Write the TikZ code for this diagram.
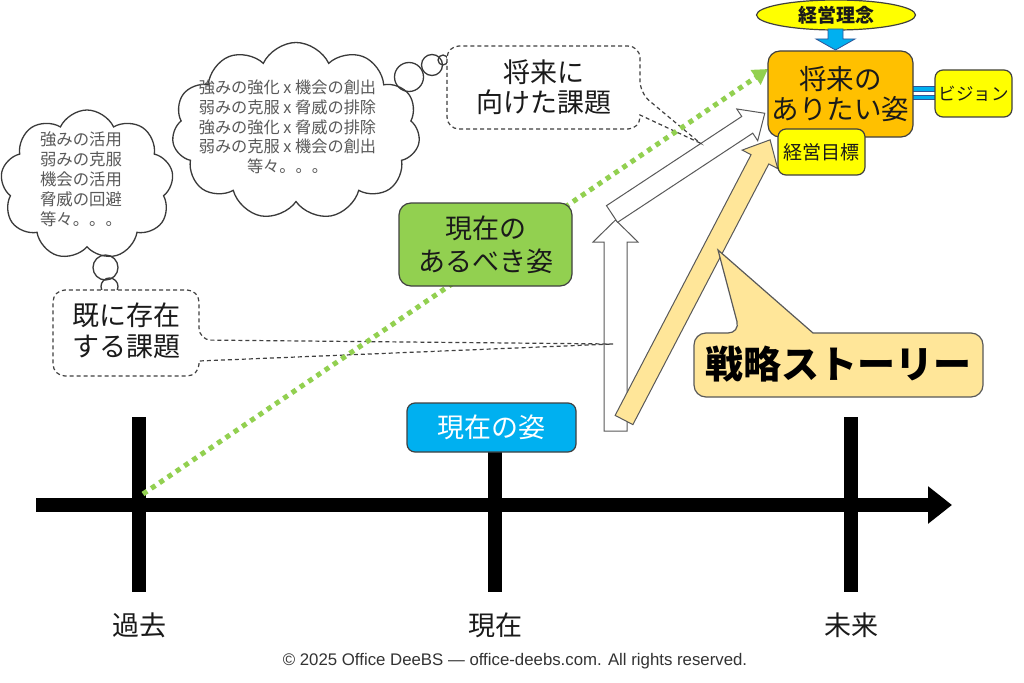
\documentclass[tikz,border=0pt]{standalone}
\usepackage{fontspec}
\setmainfont{Noto Sans CJK JP}
\newfontfamily\libsans{Liberation Sans}
\usetikzlibrary{shapes.symbols,shapes.geometric,arrows.meta}
\definecolor{cyellow}{HTML}{FFFF00}
\definecolor{corange}{HTML}{FFC000}
\definecolor{cgreen}{HTML}{92D050}
\definecolor{cblue}{HTML}{00B0F0}
\definecolor{clorange}{HTML}{FFE699}
\definecolor{bcol}{HTML}{404040}
\definecolor{tcol}{HTML}{1A1A1A}
\definecolor{cltxt}{HTML}{595959}
\definecolor{clline}{HTML}{3A3A3A}
\definecolor{ccopy}{HTML}{333333}
\definecolor{arrline}{HTML}{595959}
\definecolor{bluebord}{HTML}{2F5597}
\begin{document}
\begin{tikzpicture}[x=1pt,y=-1pt,
  txt/.style={inner sep=0pt, align=center, text=tcol},
  big/.style={font=\fontsize{27}{31}\selectfont},
  rbox/.style={draw=bcol, line width=1.2pt, rounded corners=#1},
  rbox/.default=10pt,
  cloudshape/.style={cloud, draw=clline, line width=1.3pt, fill=white, inner sep=0pt},
  cloudtxt/.style={inner sep=0pt, align=center, text=cltxt, font=\fontsize{16.4}{20}\selectfont},
  bubble/.style={draw=clline, line width=1.3pt},
  dashbox/.style={draw=bcol, line width=1.2pt, dash pattern=on 4pt off 3pt, fill=white},
  whitearrow/.style={draw=arrline, line width=1pt, fill=white},
  storyarrow/.style={draw=arrline, line width=1pt, fill=clorange},
  thick axis/.style={line width=14pt, draw=black},
]
\useasboundingbox (0,0) rectangle (1024,682);
\fill[white] (0,0) rectangle (1024,682);

% clouds
\node[cloudshape, cloud puffs=9, cloud puff arc=130, minimum width=173pt, minimum height=150pt] (cloudA) at (87,185) {};
\node[cloudshape, cloud puffs=11, cloud puff arc=130, minimum width=248pt, minimum height=177pt] (cloudB) at (296,131) {};
\node[cloudtxt] (ctA) at (81,179) {強みの活用\\弱みの克服\\機会の活用\\脅威の回避\\等々。。。};
\node[cloudtxt, font=\fontsize{16.2}{19.7}\selectfont] (ctB) at (287.5,127) {強みの強化 x 機会の創出\\弱みの克服 x 脅威の排除\\強みの強化 x 脅威の排除\\弱みの克服 x 機会の創出\\等々。。。};
% thought bubbles
\draw[bubble] (409,77) circle[radius=14.5pt];
\draw[bubble] (432,65) circle[radius=10.5pt];
\draw[bubble] (443,60) circle[radius=5pt];
\draw[bubble] (105.5,267.5) circle[radius=12.5pt];
\draw[bubble] (109.5,286.5) circle[radius=8.5pt];
\draw[bubble] (111.5,296.5) circle[radius=4.5pt];

% axis
\coordinate (a0) at (36,505);
\coordinate (a1) at (952,505);
\draw[thick axis, -{Triangle[length=24pt,width=36pt]}] (a0) -- (a1);
\coordinate (tp0) at (139,417); \coordinate (tp1) at (139,592);
\coordinate (tn0) at (495,452); \coordinate (tn1) at (495,592);
\coordinate (tf0) at (851,417); \coordinate (tf1) at (851,592);
\draw[thick axis] (tp0) -- (tp1);
\draw[thick axis] (tn0) -- (tn1);
\draw[thick axis] (tf0) -- (tf1);
\node[txt, big] (lpast) at (139,625) {過去};
\node[txt, big] (lnow) at (495,625) {現在};
\node[txt, big] (lfut) at (851,625) {未来};

% white arrows
\draw[whitearrow] (604,431) -- (627,431) -- (627,242) -- (638,242) -- (615.5,220) -- (593,242) -- (604,242) -- cycle;
\begin{scope}[shift={(612,214)}, rotate=33.4]
\draw[whitearrow] (0,-10) -- (162,-10) -- (162,-19) -- (183,0) -- (162,19) -- (162,10) -- (0,10) -- cycle;
\end{scope}
% strategy arrow
\begin{scope}[shift={(624,420)}, rotate=62.46]
\draw[storyarrow] (0,-10) -- (294,-10) -- (294,-20) -- (316,0) -- (294,20) -- (294,10) -- (0,10) -- cycle;
\end{scope}

% dashed callouts
\draw[dashbox] (543,46) [rounded corners=12pt] -- (640,46) -- (640,93) [sharp corners] -- (700,143) -- (640,115) [rounded corners=12pt] -- (640,129) -- (447,129) -- (447,46) -- cycle;
\node[txt, big, font=\fontsize{27}{30}\selectfont] (futissue) at (543.5,87) {将来に\\向けた課題};
\draw[dashbox] (126,290) [rounded corners=12pt] -- (199,290) -- (199,340) [sharp corners] -- (613,344) -- (199,361) [rounded corners=12pt] -- (199,376) -- (53,376) -- (53,290) -- cycle;
\node[txt, big] (exissue) at (126,331) {既に存在\\する課題};

% green dotted arrow
\coordinate (g0) at (143,494);
\coordinate (g1) at (768,69);
\draw[draw=cgreen, line width=5pt, dash pattern=on 5pt off 5pt, -{Triangle[length=15pt,width=17pt]}] (g0) -- (g1);

% boxes
\node[rbox=8pt, fill=cblue, minimum width=169pt, minimum height=49pt, txt, text=white, big] (now) at (491.5,427.5) {現在の姿};
\node[rbox=12pt, fill=cgreen, minimum width=173pt, minimum height=83pt, txt, font=\fontsize{27}{33}\selectfont] (ideal) at (485.5,244.5) {現在の\\あるべき姿};
% connector bars to vision
\draw[draw=bluebord, line width=0.8pt, fill=cblue] (909,86.5) rectangle (936,91);
\draw[draw=bluebord, line width=0.8pt, fill=cblue] (909,95) rectangle (936,99.5);
\node[rbox=12pt, fill=corange, minimum width=145pt, minimum height=86pt, txt, font=\fontsize{27.5}{30}\selectfont] (future) at (840.5,94) {将来の\\ありたい姿};
\node[ellipse, draw=bcol, line width=1.2pt, fill=cyellow, minimum width=159pt, minimum height=30pt, inner sep=0pt, text=tcol, font=\bfseries\fontsize{19}{19}\selectfont] (rinen) at (836,15) {経営理念};
\draw[draw=bluebord, line width=0.8pt, fill=cblue] (828,29) -- (843,29) -- (843,39) -- (855,39) -- (835.5,50) -- (816,39) -- (828,39) -- cycle;
\node[rbox=8pt, fill=cyellow, minimum width=77pt, minimum height=47pt, txt, font=\fontsize{17.5}{18}\selectfont] (vision) at (973.5,93.5) {ビジョン};
\node[rbox=8pt, fill=cyellow, minimum width=87pt, minimum height=46pt, txt, font=\fontsize{19}{19}\selectfont] (goal) at (821.5,152) {経営目標};

% strategy story callout
\draw[draw=arrline, line width=1.2pt, fill=clorange] (900,333) [rounded corners=12pt] -- (983,333) -- (983,397) -- (694,397) -- (694,333) -- (740,333) [sharp corners] -- (718,250) -- (813,333) -- cycle;
\node[txt, text=black, font=\bfseries\fontsize{38}{38}\selectfont] (story) at (838.5,364) {戦略ストーリー};

% copyright
\node[inner sep=0pt, text=ccopy, font=\libsans\fontsize{16.8}{17}\selectfont] (copy) at (515,661) {© 2025 Office DeeBS — office-deebs.com. All rights reserved.};
\end{tikzpicture}
\end{document}
